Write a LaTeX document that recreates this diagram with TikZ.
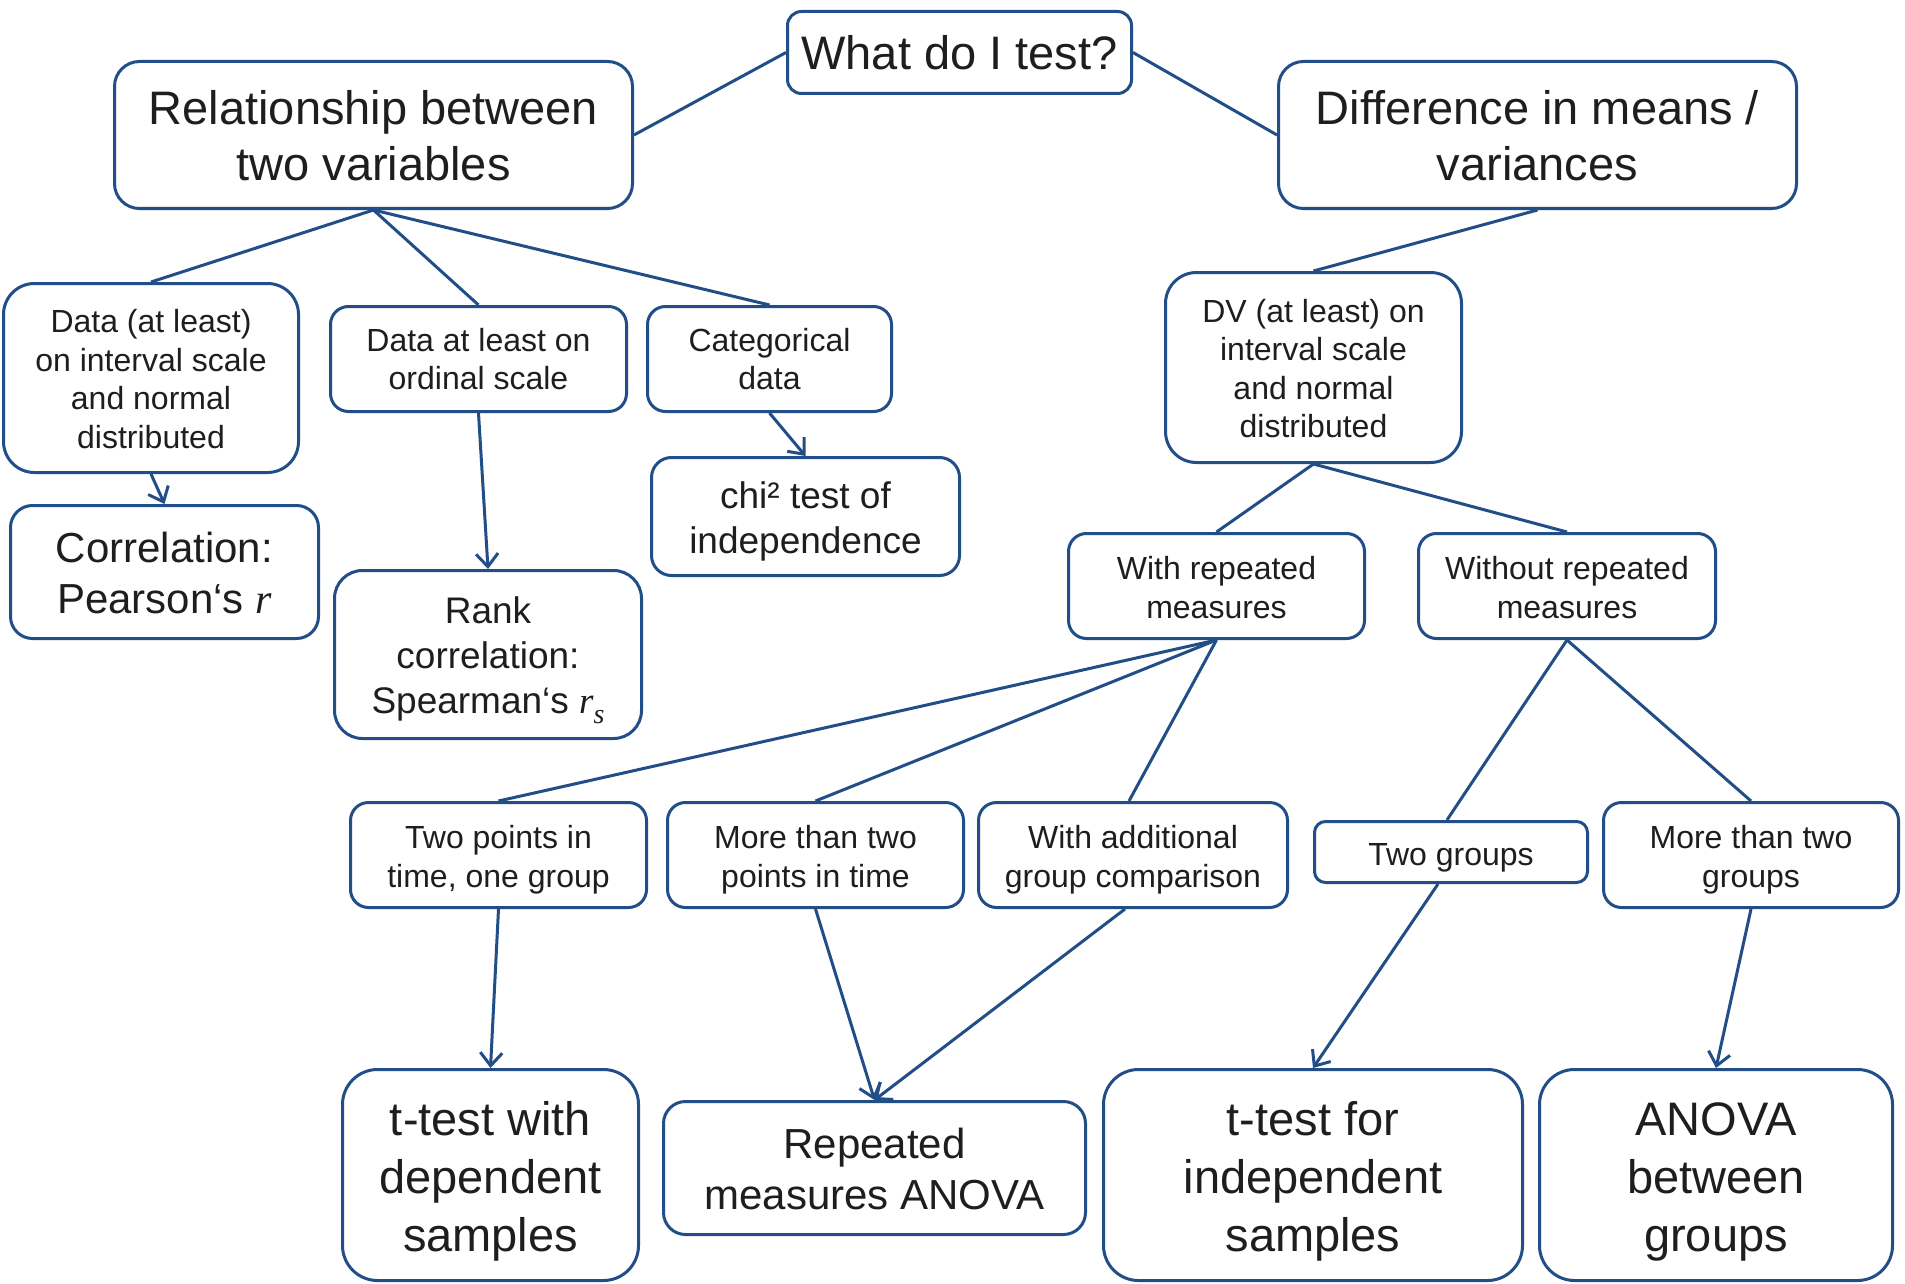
\documentclass[tikz,border=0pt]{standalone}
\usepackage{fontspec}
\setmainfont{Liberation Sans}
\newfontfamily\serifit{Liberation Serif}
\usetikzlibrary{arrows.meta,calc}
\definecolor{dblue}{RGB}{34,78,136}
\definecolor{txt}{RGB}{30,30,30}
\newcommand\myS{\fontsize{32}{38.5}\selectfont}
\newcommand\myM{\fontsize{37}{45}\selectfont}
\newcommand\myN{\fontsize{42}{51}\selectfont}
\newcommand\myL{\fontsize{47}{56}\selectfont}
\newcommand\myX{\fontsize{47}{58}\selectfont}
\newcommand\tup[1]{\rule{0pt}{#1}}
\tikzset{
  box/.style={draw=dblue, line width=3pt, fill=white, align=center, inner sep=0pt, text=txt, rectangle},
  conn/.style={draw=dblue, line width=3pt},
  arr/.style={draw=dblue, line width=3pt, -{Straight Barb[length=13pt,width=22pt,line width=3pt]}},
}
\begin{document}
\begin{tikzpicture}[x=1pt,y=-1pt]
\useasboundingbox (0,0) rectangle (1905,1284);
\fill[white] (0,0) rectangle (1905,1284);
% level 0
\node[box, minimum width=344, minimum height=82, rounded corners=14pt, font=\myL] (what) at (959.5,52.5) {What do I test?};
% level 1
\node[box, minimum width=518, minimum height=147, rounded corners=25pt, font=\myL] (rel) at (373.5,135) {\tup{36pt}Relationship between\\two variables};
\node[box, minimum width=518, minimum height=147, rounded corners=25pt, font=\myL] (diff) at (1537.5,135) {\tup{36pt}Difference in means /\\variances};
% level 2 left
\node[box, minimum width=295, minimum height=189, rounded corners=31pt, font=\myS] (dint) at (151,378) {\tup{25pt}Data (at least)\\on interval scale\\and normal\\distributed};
\node[box, minimum width=296, minimum height=105, rounded corners=18pt, font=\myS] (ord) at (478.5,359) {Data at least on\\ordinal scale};
\node[box, minimum width=244, minimum height=105, rounded corners=18pt, font=\myS] (cat) at (769.5,359) {Categorical\\data};
% leaves left
\node[box, minimum width=308, minimum height=133, rounded corners=22pt, font=\myN] (corr) at (164.5,572) {\tup{32pt}Correlation:\\Pearson‘s {\serifit\itshape r}};
\node[box, minimum width=307, minimum height=168, rounded corners=28pt, font=\myM] (rank) at (488,654.5) {\tup{38.6pt}Rank\\correlation:\\Spearman‘s {\serifit\itshape r}\raisebox{-0.28em}{\fontsize{28}{28}\selectfont\serifit\itshape s}};
\node[box, minimum width=308, minimum height=118, rounded corners=20pt, font=\myM] (chi) at (805.5,516.5) {\tup{36.6pt}chi² test of\\independence};
% right branch
\node[box, minimum width=296, minimum height=190, rounded corners=31pt, font=\myS] (dv) at (1313.5,367.5) {\tup{25pt}DV (at least) on\\interval scale\\and normal\\distributed};
\node[box, minimum width=296, minimum height=105, rounded corners=18pt, font=\myS] (withrep) at (1216.5,586) {\tup{26pt}With repeated\\measures};
\node[box, minimum width=297, minimum height=105, rounded corners=18pt, font=\myS] (withoutrep) at (1567,586) {\tup{26pt}Without repeated\\measures};
% level 4
\node[box, minimum width=296, minimum height=105, rounded corners=18pt, font=\myS] (twop) at (498.5,855) {\tup{33pt}Two points in\\time, one group};
\node[box, minimum width=296, minimum height=105, rounded corners=18pt, font=\myS] (morep) at (815.5,855) {\tup{33pt}More than two\\points in time};
\node[box, minimum width=309, minimum height=105, rounded corners=18pt, font=\myS] (addg) at (1133,855) {\tup{33pt}With additional\\group comparison};
\node[box, minimum width=273, minimum height=61, rounded corners=11pt, font=\myS] (twog) at (1451,852) {\tup{33pt}Two groups};
\node[box, minimum width=295, minimum height=105, rounded corners=18pt, font=\myS] (moreg) at (1751,855) {\tup{33pt}More than two\\groups};
% bottom leaves
\node[box, minimum width=296, minimum height=211, rounded corners=35pt, font=\myX] (ttdep) at (490.5,1175) {\tup{46pt}t-test with\\dependent\\samples};
\node[box, minimum width=422, minimum height=133, rounded corners=22pt, font=\myN] (rmanova) at (874.5,1168) {\tup{32pt}Repeated\\measures ANOVA};
\node[box, minimum width=419, minimum height=211, rounded corners=35pt, font=\myX] (ttind) at (1313,1175) {\tup{46pt}t-test for\\independent\\samples};
\node[box, minimum width=353, minimum height=211, rounded corners=35pt, font=\myX] (anova) at (1716,1175) {\tup{46pt}ANOVA\\between\\groups};
% connectors
\draw[conn] (what.west) -- (rel.east);
\draw[conn] (what.east) -- (diff.west);
\draw[conn] (rel.south) -- (dint.north);
\draw[conn] (rel.south) -- (ord.north);
\draw[conn] (rel.south) -- (cat.north);
\draw[conn] (diff.south) -- (dv.north);
\draw[conn] (dv.south) -- (withrep.north);
\draw[conn] (dv.south) -- (withoutrep.north);
\draw[conn] (withrep.south) -- (twop.north);
\draw[conn] (withrep.south) -- (morep.north);
\draw[conn] (withrep.south) -- ($(addg.north)+(-4,0)$);
\draw[conn] (withoutrep.south) -- ($(twog.north)+(-4,0)$);
\draw[conn] (withoutrep.south) -- (moreg.north);
% arrows
\draw[arr] (dint.south) -- (corr.north);
\draw[arr] (ord.south) -- (rank.north);
\draw[arr] (cat.south) -- (chi.north);
\draw[arr] (twop.south) -- (ttdep.north);
\draw[arr] (morep.south) -- (rmanova.north);
\draw[arr] ($(addg.south)+(-8,0)$) -- (rmanova.north);
\draw[arr] ($(twog.south)+(-13,0)$) -- (ttind.north);
\draw[arr] (moreg.south) -- (anova.north);
\end{tikzpicture}
\end{document}
